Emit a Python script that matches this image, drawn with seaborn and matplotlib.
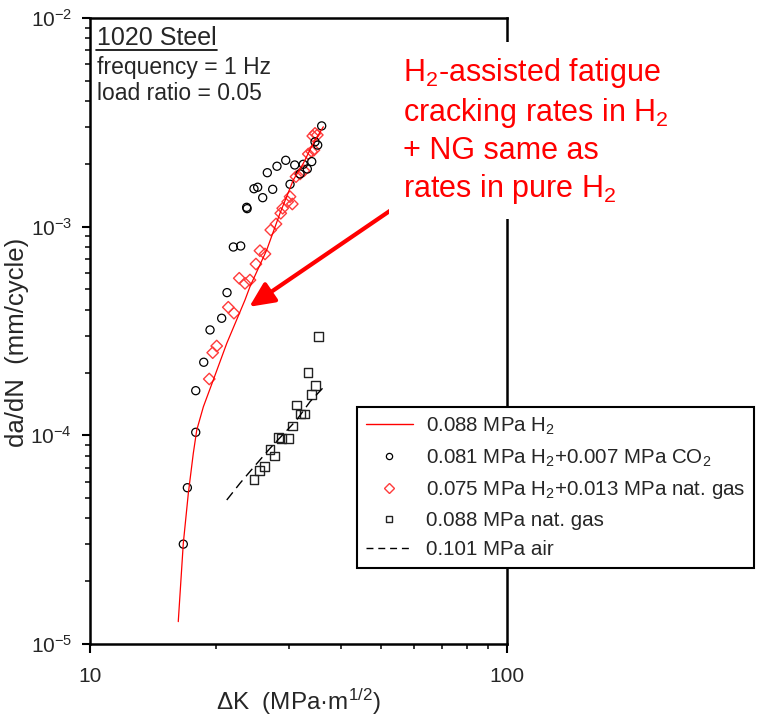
import numpy as np
import pandas as pd
import matplotlib
matplotlib.use("Agg")
import matplotlib.pyplot as plt
from matplotlib.lines import Line2D
from matplotlib.ticker import FixedLocator, FuncFormatter, LogLocator, NullFormatter
import seaborn as sns

sns.set_style("ticks")
plt.rcParams['font.family'] = ['Liberation Sans', 'DejaVu Sans']
plt.rcParams['mathtext.fontset'] = 'custom'
plt.rcParams['mathtext.rm'] = 'Liberation Sans'
plt.rcParams['mathtext.it'] = 'Liberation Sans:italic'
plt.rcParams['mathtext.default'] = 'regular'

# ---------------- data ----------------
h2_dk = [16.28, 16.74, 17.21, 17.69, 18.03, 18.70, 19.75, 21.28, 23.53, 24.19,
         26.53, 28.55, 30.73, 32.47, 34.31, 36.27]
h2_rate = [1.28e-5, 3.04e-5, 5.27e-5, 8.20e-5, 1.06e-4, 1.37e-4, 1.84e-4, 2.76e-4,
           4.45e-4, 5.16e-4, 7.73e-4, 1.159e-3, 1.674e-3, 2.01e-3, 2.51e-3, 3.01e-3]

co2_dk = [16.74, 17.12, 17.93, 17.93, 18.74, 19.40, 20.69, 21.31, 22.07, 22.98,
          23.75, 23.81, 24.73, 25.24, 25.95, 26.62, 27.42, 28.08, 29.47, 30.18,
          30.97, 31.89, 32.47, 33.20, 34.02, 34.64, 35.16, 35.94]
co2_rate = [3.01e-5, 5.61e-5, 1.034e-4, 1.637e-4, 2.24e-4, 3.20e-4, 3.64e-4, 4.83e-4,
            7.99e-4, 8.08e-4, 1.238e-3, 1.22e-3, 1.52e-3, 1.545e-3, 1.377e-3, 1.814e-3,
            1.51e-3, 1.948e-3, 2.08e-3, 1.596e-3, 1.975e-3, 1.789e-3, 1.99e-3, 1.89e-3,
            2.05e-3, 2.55e-3, 2.46e-3, 3.04e-3]

ng_mix_dk = [19.32, 19.69, 20.13, 21.46, 22.14, 22.80, 23.53, 24.19, 25.00, 25.56,
             26.28, 27.13, 27.93, 28.67, 28.98, 29.79, 30.56, 30.18, 31.19, 31.89,
             32.60, 33.38, 34.02, 34.45, 34.21, 34.64, 35.09]
ng_mix_rate = [1.862e-4, 2.49e-4, 2.68e-4, 4.11e-4, 3.85e-4, 5.66e-4, 5.35e-4, 5.55e-4,
               6.62e-4, 7.67e-4, 7.40e-4, 9.64e-4, 1.03e-3, 1.159e-3, 1.225e-3, 1.317e-3,
               1.284e-3, 1.392e-3, 1.736e-3, 1.789e-3, 1.854e-3, 2.23e-3, 2.29e-3, 2.33e-3,
               2.72e-3, 2.80e-3, 2.75e-3]

ng_dk = [35.35, 33.33, 34.70, 33.94, 31.31, 32.01, 32.72, 30.56, 28.35, 28.76,
         29.96, 27.03, 27.73, 26.24, 25.47, 24.73]
ng_rate = [2.97e-4, 2.005e-4, 1.73e-4, 1.573e-4, 1.397e-4, 1.266e-4, 1.266e-4, 1.108e-4,
           9.78e-5, 9.67e-5, 9.67e-5, 8.57e-5, 7.96e-5, 7.08e-5, 6.77e-5, 6.16e-5]

air_dk = [21.28, 22.89, 24.86, 27.03, 31.31, 33.70, 36.41]
air_rate = [4.90e-5, 5.89e-5, 7.15e-5, 8.67e-5, 1.185e-4, 1.45e-4, 1.71e-4]

labels = ["0.088 MPa H$_2$",
          "0.081 MPa H$_2$+0.007 MPa CO$_2$",
          "0.075 MPa H$_2$+0.013 MPa nat. gas",
          "0.088 MPa nat. gas",
          "0.101 MPa air"]

x_ticks = [10, 100]
x_ticklabels = ["10", "100"]
y_ticks = [1e-5, 1e-4, 1e-3, 1e-2]

RED = '#ff0000'
DRED = '#ff3b3b'

# ---------------- figure ----------------
W, H = 760, 716
fig = plt.figure(figsize=(W / 100, H / 100), dpi=100)
L, R, T, B = 90, 507, 18, 644
ax = fig.add_axes([L / W, 1 - B / H, (R - L) / W, (B - T) / H])
ax.set_xscale('log')
ax.set_yscale('log')

sns.lineplot(x=h2_dk, y=h2_rate, ax=ax, color=RED, lw=0.9, estimator=None, sort=False)
sns.lineplot(x=air_dk, y=air_rate, ax=ax, color='black', lw=1.0, estimator=None,
             sort=False, dashes=False)
ax.lines[-1].set_dashes((7, 4))
sns.scatterplot(x=ng_dk, y=ng_rate, ax=ax, marker='s', s=40, facecolor='none',
                edgecolor='#222222', linewidth=1.0)
sns.scatterplot(x=ng_mix_dk, y=ng_mix_rate, ax=ax, marker='D', s=34, facecolor='none',
                edgecolor=DRED, linewidth=1.0)
sns.scatterplot(x=co2_dk, y=co2_rate, ax=ax, marker='o', s=34, facecolor='none',
                edgecolor='black', linewidth=0.9)

ax.set_xlim(10, 100)
ax.set_ylim(1e-5, 1e-2)

# ticks
ax.xaxis.set_major_locator(FixedLocator(x_ticks))
ax.xaxis.set_major_formatter(FuncFormatter(lambda v, p: x_ticklabels[x_ticks.index(int(round(v)))] if int(round(v)) in x_ticks else ""))
ax.xaxis.set_minor_locator(LogLocator(base=10, subs=np.arange(2, 10)))
ax.xaxis.set_minor_formatter(NullFormatter())
ax.yaxis.set_major_locator(FixedLocator(y_ticks))
ax.yaxis.set_major_formatter(FuncFormatter(lambda v, p: "$10^{%d}$" % int(round(np.log10(v)))))
ax.yaxis.set_minor_locator(LogLocator(base=10, subs=np.arange(2, 10)))
ax.yaxis.set_minor_formatter(NullFormatter())
ax.tick_params(which='both', direction='out', top=False, right=False, color='black')
ax.tick_params(axis='x', which='major', length=6.5, width=1.5, pad=10, labelsize=15)
ax.tick_params(axis='y', which='major', length=6, width=1.5, pad=7, labelsize=15)
ax.tick_params(which='minor', length=3.5, width=1.1)
for sp in ax.spines.values():
    sp.set_linewidth(1.8)
    sp.set_color('black')

ax.set_xlabel("ΔK  (MPa·m$^{1/2}$)", fontsize=17.5)
ax.set_ylabel("da/dN  (mm/cycle)", fontsize=18.5)
ax.xaxis.set_label_coords(0.5, (B - 687) / (B - T))
ax.xaxis.label.set_va('top')
ax.yaxis.set_label_coords((29 - L) / (R - L), (B - 342) / (B - T))

# top-left text
def fy(py):
    return (B - py) / (B - T)
def fx(px):
    return (px - L) / (R - L)

ax.text(fx(97), fy(45), "1020 Steel", fontsize=18, va='baseline', ha='left',
        transform=ax.transAxes)
ax.plot([fx(96), fx(217)], [fy(49.5), fy(49.5)], color='black', lw=1.2,
        transform=ax.transAxes, clip_on=False)
ax.text(fx(97), fy(74), "frequency = 1 Hz", fontsize=16.5, va='baseline', ha='left',
        transform=ax.transAxes)
ax.text(fx(97), fy(100), "load ratio = 0.05", fontsize=16.5, va='baseline', ha='left',
        transform=ax.transAxes)

# annotation
fig.text(403 / W, 1 - 56 / H,
         "H$_2$-assisted fatigue\ncracking rates in H$_2$\n+ NG same as\nrates in pure H$_2$",
         color=RED, fontsize=22, va='top', ha='left', linespacing=1.24,
         bbox=dict(facecolor='white', edgecolor='none', pad=10))
ax.annotate("", xy=(24.1, 4.13e-4), xycoords='data',
            xytext=(fx(397), fy(206)), textcoords='axes fraction',
            arrowprops=dict(arrowstyle='-|>,head_length=0.6,head_width=0.28',
                            mutation_scale=25, lw=3, color=RED,
                            shrinkA=0, shrinkB=0))

# legend
handles = [
    Line2D([], [], color=RED, lw=1.0),
    Line2D([], [], ls='none', marker='o', ms=4.5, mfc='none', mec='black', mew=0.9),
    Line2D([], [], ls='none', marker='D', ms=5, mfc='none', mec=DRED, mew=1.0),
    Line2D([], [], ls='none', marker='s', ms=5, mfc='none', mec='#222222', mew=1.0),
    Line2D([], [], color='black', lw=1.0, dashes=(5, 3.5)),
]
leg = ax.legend(handles, labels, loc='upper left',
                bbox_to_anchor=(357 / W, 1 - 407 / H), bbox_transform=fig.transFigure,
                fontsize=14.8, frameon=True, fancybox=False, framealpha=1,
                edgecolor='black', borderpad=0.42, handlelength=2.3,
                handletextpad=0.65, labelspacing=0.5, borderaxespad=0)
leg.get_frame().set_linewidth(1.5)

fig.savefig("out.png", dpi=100)
